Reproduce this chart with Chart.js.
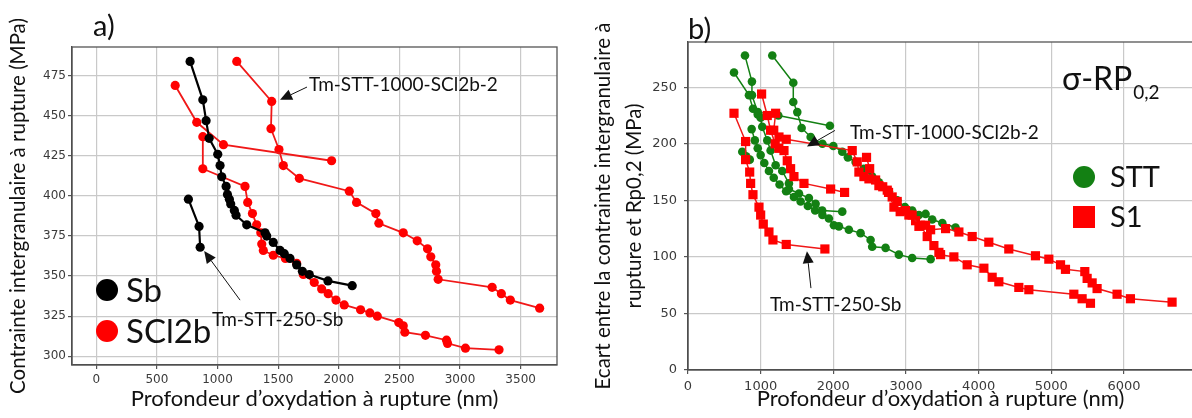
<!DOCTYPE html>
<html><head><meta charset="utf-8">
<script src="https://cdn.jsdelivr.net/npm/chart.js@4.4.1/dist/chart.umd.min.js"></script>
<style>
html,body{margin:0;padding:0;background:#fff;overflow:hidden;width:1192px;height:418px;}
#ca{position:absolute;left:0;top:0;}
#cb{position:absolute;left:565px;top:0;}
</style></head><body>
<canvas id="ca" width="570" height="418"></canvas>
<canvas id="cb" width="635" height="418"></canvas>
<script>
// ---------- Panel a) data : Contrainte intergranulaire à rupture (MPa) vs profondeur (nm)
const aXTicks = [0, 500, 1000, 1500, 2000, 2500, 3000, 3500];
const aYTicks = [300, 325, 350, 375, 400, 425, 450, 475];

const sbMainX = [774, 879, 906, 931, 1002, 1021, 1035, 1071, 1082, 1098, 1109, 1139, 1153, 1241, 1392, 1406, 1460, 1516, 1551, 1598, 1653, 1700, 1757, 1911, 2111];
const sbMainY = [484, 460, 447, 436, 426, 419, 412, 406, 401, 398, 395, 391, 388, 382, 377, 375, 371, 366, 364, 361, 357, 353, 351, 347, 344];
const sb250X = [760, 848, 857];
const sb250Y = [398, 381, 368];

const sclAX = [651, 829, 1049, 1941];
const sclAY = [469, 446, 432, 422];
const sclBX = [879, 879, 1227, 1249, 1288, 1323, 1357, 1365, 1378, 1460, 1560, 1653, 1708, 1798, 1859, 1913, 1977, 2045, 2180, 2257, 2318, 2495, 2532, 2545, 2715, 2889, 2897, 3045, 3322];
const sclBY = [437, 417, 406, 396, 389, 382, 377, 370, 366, 363, 361, 358, 351, 346, 342, 339, 335, 332, 329, 327, 325, 321, 319, 315, 313, 310, 308, 305, 304];
const sclCX = [1159, 1447, 1441, 1507, 1543, 1675, 2087, 2147, 2306, 2331, 2532, 2647, 2732, 2759, 2800, 2806, 2820, 3265, 3341, 3415, 3657];
const sclCY = [484, 459, 442, 429, 419, 411, 403, 396, 389, 383, 377, 372, 367, 362, 357, 353, 348, 343, 339, 335, 330];

// ---------- Panel b) data : Ecart sigma - Rp0,2 (MPa) vs profondeur (nm)
const bXTicks = [0, 1000, 2000, 3000, 4000, 5000, 6000];
const bYTicks = [0, 50, 100, 150, 200, 250];

const sttAX = [784, 880, 880, 960, 1243, 1953];
const sttAY = [278, 255, 243, 228, 225, 216];
const sttBX = [633, 839, 894, 960, 1000, 1022, 1091, 1137, 1206, 1297, 1389, 1389, 1527, 1664, 1756, 1847, 2123];
const sttBY = [263, 243, 231, 226, 223, 215, 203, 194, 181, 176, 165, 160, 156, 152, 147, 141, 140];
const sttCX = [1160, 1449, 1449, 1504, 1564, 1688, 1850, 2000, 2123, 2200, 2307, 2420, 2535, 2627, 2765, 2880, 2985, 3085, 3178, 3270, 3361, 3500, 3682];
const sttCY = [278, 254, 237, 228, 214, 206, 200, 198, 193, 188, 184, 178, 171, 166, 158, 150, 144, 141, 137, 138, 133, 130, 126];
const sttEX = [876, 920, 960, 1000, 1050, 1114, 1180, 1260, 1350, 1458, 1550, 1650, 1750, 1850, 1939, 2008, 2077, 2214, 2375, 2513, 2535, 2719, 2902, 3085, 3339];
const sttEY = [213, 203, 196, 190, 183, 176, 170, 164, 158, 153, 149, 145, 141, 137, 134, 128, 127, 124, 121, 115, 109, 108, 102, 99, 98];
const sttFX = [747, 800, 850];
const sttFY = [193, 189, 186];

const s1AX = [633, 793, 793, 849, 862, 894, 977, 1000, 1036, 1114, 1169, 1352, 1884];
const s1AY = [227, 202, 186, 175, 165, 155, 144, 137, 129, 122, 115, 111, 107];
const s1BX = [1013, 1091, 1137, 1200, 1250, 1321, 1366, 1412, 1458, 1596, 1963, 2155];
const s1BY = [244, 225, 212, 200, 196, 194, 185, 178, 171, 165, 160, 157];
const s1CX = [1206, 1180, 1252, 1352, 2260, 2329, 2352, 2421, 2490, 2627, 2742, 2810, 2879, 2994, 3085, 3178, 3270, 3339, 3545, 3728, 3911, 4140, 4415, 4782, 4966, 5127, 5195, 5461, 5493, 5562, 5630, 5905, 6089, 6662];
const s1CY = [227, 212, 206, 204, 194, 184, 175, 171, 169, 163, 159, 153, 149, 141, 137, 127, 128, 124, 125, 122, 118, 113, 107, 101, 98, 93, 89, 87, 81, 77, 72, 67, 63, 60];
const s1DX = [2457, 2500, 2582, 2680, 2760, 2834, 2920, 3040, 3132, 3201, 3292, 3384, 3453, 3476, 3659, 3842, 4072, 4186, 4278, 4553, 4691, 5310, 5424, 5539];
const s1DY = [188, 178, 168, 162, 157, 144, 140, 137, 132, 128, 118, 110, 104, 102, 100, 93, 90, 82, 78, 73, 71, 67, 63, 59];

// ---------- styling
const FONT = 'Lato, "Open Sans", sans-serif';
const TICKFONT = '"DejaVu Sans", sans-serif';
const BLACK = '#000000', RED = '#ff0000', REDLINE = '#f01818', GREEN = '#138013';
const GRID = '#c9c9c9', TICKCOL = '#3a3a3a';

function pts(xs, ys) { return xs.map((x, i) => ({ x: x, y: ys[i] })); }
function ds(label, xs, ys, color, lineColor, style, r, lw) {
  return { label, data: pts(xs, ys), showLine: true, borderColor: lineColor, backgroundColor: color,
    pointBackgroundColor: color, pointBorderColor: color, pointStyle: style, pointRadius: r,
    pointBorderWidth: 0, borderWidth: lw, tension: 0 };
}
function arrow(ctx, x1, y1, x2, y2) {
  const ang = Math.atan2(y2 - y1, x2 - x1), L = 12, W = 5.5;
  const bx = x2 - L * Math.cos(ang), by = y2 - L * Math.sin(ang);
  ctx.beginPath(); ctx.moveTo(x1, y1); ctx.lineTo(bx, by); ctx.stroke();
  ctx.beginPath(); ctx.moveTo(x2, y2);
  ctx.lineTo(bx + W * Math.sin(ang), by - W * Math.cos(ang));
  ctx.lineTo(bx - W * Math.sin(ang), by + W * Math.cos(ang));
  ctx.closePath(); ctx.fill();
}
function axisOpts(ticks, fontSize, pad, forced, isX, title, titleFont, titlePad) {
  return {
    type: 'linear',
    afterBuildTicks: s => { s.ticks = ticks.map(v => ({ value: v })); },
    afterFit: s => { if (isX) s.height = forced; else s.width = forced; },
    grid: { color: GRID, lineWidth: 1.2, tickLength: 4, tickColor: '#555' },
    border: { color: '#444', width: 1.3 },
    ticks: { font: { family: TICKFONT, size: fontSize }, color: TICKCOL, padding: pad, maxRotation: 0,
      callback: v => String(v) },
    title: { display: true, text: title, color: '#111', font: titleFont, padding: titlePad }
  };
}
const framePlugin = {
  id: 'frame',
  beforeDatasetsDraw(chart) {
    const a = chart.chartArea, ctx = chart.ctx;
    ctx.save(); ctx.strokeStyle = '#555'; ctx.lineWidth = 1.3;
    ctx.strokeRect(a.left, a.top, a.right - a.left, a.bottom - a.top);
    ctx.restore();
  }
};
function textAt(ctx, t, x, y, size, align) {
  ctx.font = size + 'px ' + FONT; ctx.textAlign = align || 'left'; ctx.textBaseline = 'middle';
  ctx.fillStyle = '#111'; ctx.fillText(t, x, y);
}

// annotation anchors in data units
const aNotes = [
  { text: 'Tm-STT-1000-SCl2b-2', tx: 1755, ty: 469.5, tail: [1738, 468], tip: [1516, 460] },
  { text: 'Tm-STT-250-Sb', tx: 955, ty: 322.5, tail: [1186, 335], tip: [890, 365.6] }
];
const bNotes = [
  { text: 'Tm-STT-1000-SCl2b-2', tx: 2228, ty: 210, tail: [2022, 211.8], tip: [1637, 197.6] },
  { text: 'Tm-STT-250-Sb', tx: 1128, ty: 57.4, tail: [1692, 72.4], tip: [1637, 105] }
];
function notesPlugin(notes, size) {
  return {
    id: 'notes',
    afterDatasetsDraw(chart) {
      const ctx = chart.ctx, sx = chart.scales.x, sy = chart.scales.y;
      ctx.save(); ctx.strokeStyle = '#111'; ctx.fillStyle = '#111'; ctx.lineWidth = 1;
      notes.forEach(n => {
        arrow(ctx, sx.getPixelForValue(n.tail[0]), sy.getPixelForValue(n.tail[1]),
          sx.getPixelForValue(n.tip[0]), sy.getPixelForValue(n.tip[1]));
        textAt(ctx, n.text, sx.getPixelForValue(n.tx), sy.getPixelForValue(n.ty), size);
      });
      ctx.restore();
    }
  };
}
const legendA = {
  id: 'legA',
  afterDraw(chart) {
    const ctx = chart.ctx; ctx.save();
    ctx.fillStyle = BLACK; ctx.beginPath(); ctx.arc(107, 290, 11, 0, 2 * Math.PI); ctx.fill();
    ctx.fillStyle = RED; ctx.beginPath(); ctx.arc(107, 331, 11, 0, 2 * Math.PI); ctx.fill();
    textAt(ctx, 'Sb', 126, 291, 33);
    textAt(ctx, 'SCl2b', 126, 332, 33);
    textAt(ctx, 'a)', 93, 27, 29);
    ctx.restore();
  }
};
const legendB = {
  id: 'legB',
  afterDraw(chart) {
    const ctx = chart.ctx; ctx.save();
    ctx.fillStyle = GREEN; ctx.beginPath(); ctx.arc(519, 177, 11, 0, 2 * Math.PI); ctx.fill();
    ctx.fillStyle = RED; ctx.fillRect(508, 206, 22, 22);
    textAt(ctx, 'STT', 545, 178, 29);
    textAt(ctx, 'S1', 545, 218, 29);
    textAt(ctx, 'b)', 123, 30, 29);
    textAt(ctx, 'σ-RP', 497, 80, 32);
    const w = ctx.measureText('σ-RP').width;
    textAt(ctx, '0,2', 497 + w + 1, 93, 19);
    ctx.restore();
  }
};

Chart.defaults.animation = false;

new Chart(document.getElementById('ca'), {
  type: 'scatter',
  data: { datasets: [
    ds('Sb', sbMainX, sbMainY, BLACK, BLACK, 'circle', 4.6, 2.2),
    ds('Sb 250', sb250X, sb250Y, BLACK, BLACK, 'circle', 4.6, 2.2),
    ds('SCl2b a', sclAX, sclAY, RED, REDLINE, 'circle', 4.6, 1.8),
    ds('SCl2b b', sclBX, sclBY, RED, REDLINE, 'circle', 4.6, 1.8),
    ds('SCl2b c', sclCX, sclCY, RED, REDLINE, 'circle', 4.6, 1.8)
  ] },
  options: {
    responsive: false,
    layout: { padding: { left: 0, top: 47, right: 13, bottom: 0 } },
    plugins: { legend: { display: false }, tooltip: { enabled: false } },
    scales: {
      x: Object.assign(axisOpts(aXTicks, 12, 4, 53, true, 'Profondeur d\u2019oxydation à rupture (nm)', { family: FONT, size: 22 }, { top: 0, bottom: 6 }), { min: -200, max: 3800 }),
      y: Object.assign(axisOpts(aYTicks, 12, 2, 72, false, 'Contrainte intergranulaire à rupture (MPa)', { family: FONT, size: 20.5 }, { top: 6, bottom: 0 }), { min: 294.5, max: 493 })
    }
  },
  plugins: [framePlugin, notesPlugin(aNotes, 19), legendA]
});

new Chart(document.getElementById('cb'), {
  type: 'scatter',
  data: { datasets: [
    ds('S1 a', s1AX, s1AY, RED, REDLINE, 'rect', 6.5, 1.5),
    ds('S1 b', s1BX, s1BY, RED, REDLINE, 'rect', 6.5, 1.5),
    ds('S1 c', s1CX, s1CY, RED, REDLINE, 'rect', 6.5, 1.5),
    ds('S1 d', s1DX, s1DY, RED, REDLINE, 'rect', 6.5, 1.5),
    ds('STT a', sttAX, sttAY, GREEN, GREEN, 'circle', 4.3, 1.5),
    ds('STT b', sttBX, sttBY, GREEN, GREEN, 'circle', 4.3, 1.5),
    ds('STT c', sttCX, sttCY, GREEN, GREEN, 'circle', 4.3, 1.5),
    ds('STT e', sttEX, sttEY, GREEN, GREEN, 'circle', 4.3, 1.5),
    ds('STT f', sttFX, sttFY, GREEN, GREEN, 'circle', 4.3, 1.5)
  ] },
  options: {
    responsive: false,
    layout: { padding: { left: 0, top: 42, right: 7, bottom: 0 } },
    plugins: { legend: { display: false }, tooltip: { enabled: false } },
    scales: {
      x: Object.assign(axisOpts(bXTicks, 13, 5, 48, true, 'Profondeur d\u2019oxydation à rupture (nm)', { family: FONT, size: 22 }, { top: 0, bottom: 6 }), { min: 0, max: 6950 }),
      y: Object.assign(axisOpts(bYTicks, 13, 7, 123, false, ['Ecart entre la contrainte intergranulaire à', 'rupture et Rp0,2 (MPa)'], { family: FONT, size: 20.5, lineHeight: 1.5 }, { top: 23, bottom: 0 }), { min: 0, max: 290 })
    }
  },
  plugins: [framePlugin, notesPlugin(bNotes, 19), legendB]
});
</script>
</body></html>
